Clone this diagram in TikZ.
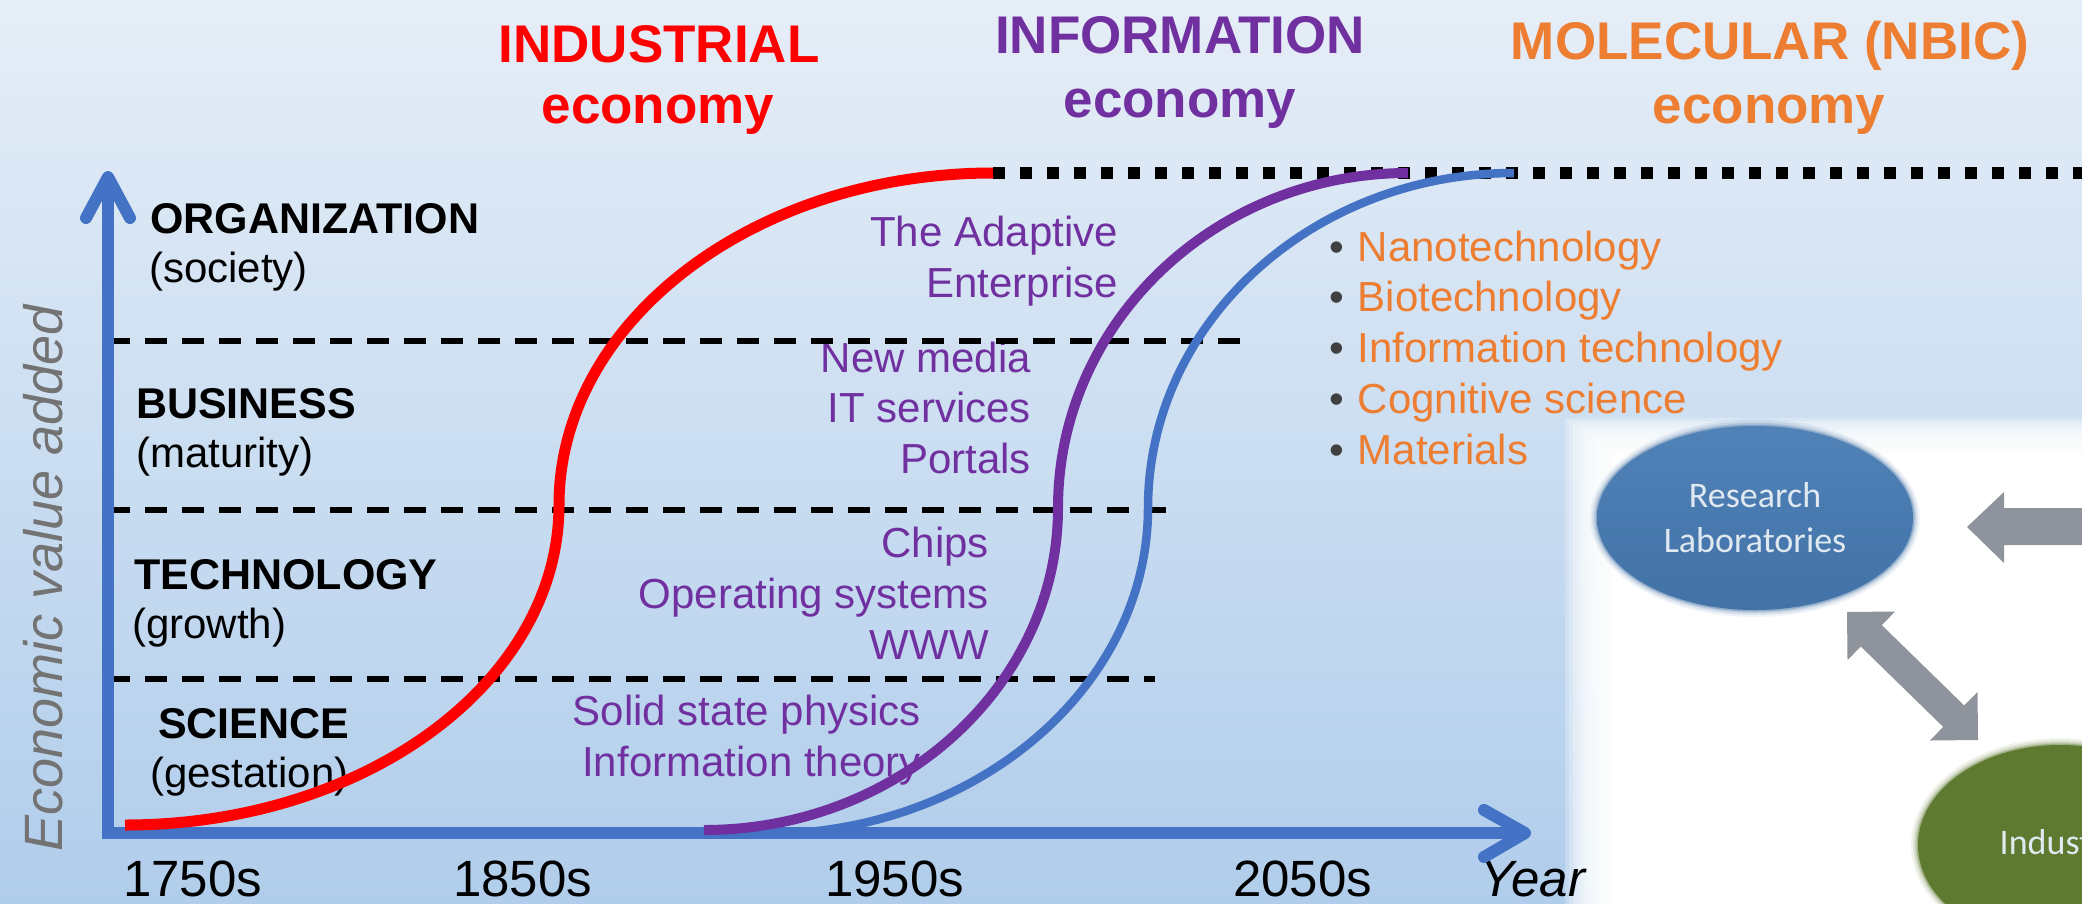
\documentclass[tikz,border=0pt]{standalone}
\usepackage{fontspec}
\setmainfont{Liberation Sans}
\newfontfamily\calibrifont{Carlito}
\usetikzlibrary{shapes.geometric}
\definecolor{bgtop}{RGB}{230,238,247}
\definecolor{bgbot}{RGB}{176,205,235}
\definecolor{axisblue}{RGB}{68,114,196}
\definecolor{indred}{RGB}{255,0,0}
\definecolor{infpurple}{RGB}{112,48,160}
\definecolor{molorange}{RGB}{237,125,49}
\definecolor{ylabgray}{RGB}{115,115,115}
\definecolor{bulletgray}{RGB}{64,64,64}
\definecolor{arrowgray}{RGB}{142,147,156}
\definecolor{labblue}{RGB}{66,114,166}
\definecolor{labbluetop}{RGB}{80,130,184}
\definecolor{indgreen}{RGB}{94,122,49}
\definecolor{elltext}{RGB}{224,232,240}
\begin{document}
\begin{tikzpicture}[x=1pt,y=-1pt,
  title/.style={font=\fontsize{53}{60}\selectfont\bfseries, anchor=base, inner sep=0pt},
  level/.style={font=\fontsize{43}{50}\selectfont\bfseries, anchor=base west, inner sep=0pt},
  phase/.style={font=\fontsize{42}{50}\selectfont, anchor=base west, inner sep=0pt},
  example/.style={font=\fontsize{42}{50}\selectfont, text=infpurple, anchor=base east, inner sep=0pt},
  bulletitem/.style={font=\fontsize{42}{50}\selectfont, text=molorange, anchor=base west, inner sep=0pt},
  yearlab/.style={font=\fontsize{51}{60}\selectfont, anchor=base west, inner sep=0pt},
  levelline/.style={black, line width=6pt, dash pattern=on 22pt off 15pt},
  axisline/.style={axisblue, line width=12pt},
  axishead/.style={axisblue, line width=12pt, line cap=round, line join=round},
  scurve/.style={line width=#1},
  blockarrow/.style={fill=arrowgray, draw=none},
  ovalnode/.style={ellipse, inner sep=0pt, align=center, text=elltext,
     font=\calibrifont\fontsize{36}{45}\selectfont}
]
\useasboundingbox (0,0) rectangle (2082,903);
\clip (0,0) rectangle (2082,903);
% background
\fill[top color=bgtop, bottom color=bgbot] (0,0) rectangle (2082,903);
% white panel with soft edges
\foreach \i in {0,...,11} {
  \fill[white, opacity=0.25] ({1565+4*\i},{418+3*\i}) rectangle (2090,910);
}
\fill[white] (1612,454) rectangle (2090,910);

% soft halos of the ovals
\foreach \d/\o in {7/0.08, 5/0.12, 3/0.2, 1.5/0.35} {
  \fill[labblue, opacity=\o] (1755,518) ellipse [x radius={158+\d}, y radius={92+\d}];
  \fill[indgreen, opacity=\o] (2060,845) ellipse [x radius={142+\d}, y radius={100+\d}];
}
% panel content
\node[ovalnode, minimum width=316pt, minimum height=184pt,
      top color=labbluetop, bottom color=labblue] (lab) at (1755,518) {Research\\Laboratories};
\node[ovalnode, minimum width=284pt, minimum height=200pt, fill=indgreen] (ind) at (2060,845) {Industry};
\fill[blockarrow] (1967,527) -- (2004,492) -- (2004,508) -- (2095,508) -- (2095,545)
   -- (2004,545) -- (2004,563) -- cycle;
\fill[blockarrow] (1847,612) -- (1895.1,611.5) -- (1881.8,625.1) -- (1964.2,705.5)
   -- (1977.5,692.0) -- (1978,740) -- (1929.9,740.5) -- (1943.2,726.9)
   -- (1860.8,646.5) -- (1847.5,660.1) -- cycle;

% titles
\node[title, text=indred] (t1a) at (659,62) {INDUSTRIAL};
\node[title, text=indred] (t1b) at (658,123) {economy};
\node[title, text=infpurple] (t2a) at (1180,53) {INFORMATION};
\node[title, text=infpurple] (t2b) at (1180,117) {economy};
\node[title, text=molorange] (t3a) at (1770,59) {MOLECULAR (NBIC)};
\node[title, text=molorange] (t3b) at (1769,123) {economy};

% level labels
\node[level] (l1) at (150,233) {ORGANIZATION};
\node[phase] (p1) at (149,282) {(society)};
\node[level] (l2) at (136,418) {BUSINESS};
\node[phase] (p2) at (136,467) {(maturity)};
\node[level] (l3) at (134,589) {TECHNOLOGY};
\node[phase] (p3) at (132,638) {(growth)};
\node[level] (l4) at (158,738) {SCIENCE};
\node[phase] (p4) at (150,787) {(gestation)};

% information economy examples
\node[example] (e1) at (1118,246) {The Adaptive};
\node[example] (e2) at (1118,297) {Enterprise};
\node[example] (e3) at (1031,372) {New media};
\node[example] (e4) at (1031,422) {IT services};
\node[example] (e5) at (1031,473) {Portals};
\node[example] (e6) at (989,557) {Chips};
\node[example] (e7) at (989,608) {Operating systems};
\node[example] (e8) at (989,659) {WWW};
\node[example] (e9) at (921,725) {Solid state physics};
\node[example] (e10) at (921,776) {Information theory};

% molecular economy list
\node[bulletitem] (b1) at (1329,261) {\textcolor{bulletgray}{•}\hspace{14pt}Nanotechnology};
\node[bulletitem] (b2) at (1329,311) {\textcolor{bulletgray}{•}\hspace{14pt}Biotechnology};
\node[bulletitem] (b3) at (1329,362) {\textcolor{bulletgray}{•}\hspace{14pt}Information technology};
\node[bulletitem] (b4) at (1329,413) {\textcolor{bulletgray}{•}\hspace{14pt}Cognitive science};
\node[bulletitem] (b5) at (1329,464) {\textcolor{bulletgray}{•}\hspace{14pt}Materials};

% axis labels
\node[rotate=90, anchor=base, inner sep=0pt, text=ylabgray,
      font=\fontsize{54}{60}\selectfont\itshape] (ylab) at (62,578) {Economic value added};
\node[yearlab] (y1) at (123,896) {1750s};
\node[yearlab] (y2) at (453,896) {1850s};
\node[yearlab] (y3) at (825,896) {1950s};
\node[yearlab] (y4) at (1233,896) {2050s};
\node[yearlab, font=\fontsize{51}{60}\selectfont\itshape] (y5) at (1480,896) {Year};

% level separators
\draw[levelline] (108,341) -- (1250,341);
\draw[levelline] (108,510) -- (1175,510);
\draw[levelline] (108,679) -- (1155,679);

% axes
\coordinate (O) at (108,833);
\coordinate (ytip) at (108,177);
\coordinate (xtip) at (1525,833);
\draw[axisline] (108,839) -- (108,182);
\draw[axisline] (102,833) -- (1518,833);
\draw[axishead] (86,218) -- (ytip) -- (130,218);
\draw[axishead] (1484,810) -- (xtip) -- (1484,857);

% plateau
\coordinate (redend) at (993,173);
\draw[black, line width=12pt, dash pattern=on 12pt off 15pt] (redend) -- (2090,173);

% S-curves
\coordinate (redstart) at (125,825);
\coordinate (redmid) at (559,505);
\draw[indred, scurve=11pt] (redstart) .. controls (365,825) and (559,682) .. (redmid)
   .. controls (559,322) and (753,173) .. (redend);
\coordinate (purstart) at (704,830);
\coordinate (purmid) at (1058,508);
\coordinate (purend) at (1408,173);
\draw[infpurple, scurve=10pt] (purstart) .. controls (899,830) and (1058,685) .. (purmid)
   .. controls (1058,323) and (1215,173) .. (purend);
\coordinate (blustart) at (765,834);
\coordinate (blumid) at (1148,508);
\coordinate (bluend) at (1514,173);
\draw[axisblue, scurve=8.5pt] (blustart) .. controls (976,834) and (1148,687) .. (blumid)
   .. controls (1148,323) and (1312,173) .. (bluend);
\end{tikzpicture}
\end{document}
